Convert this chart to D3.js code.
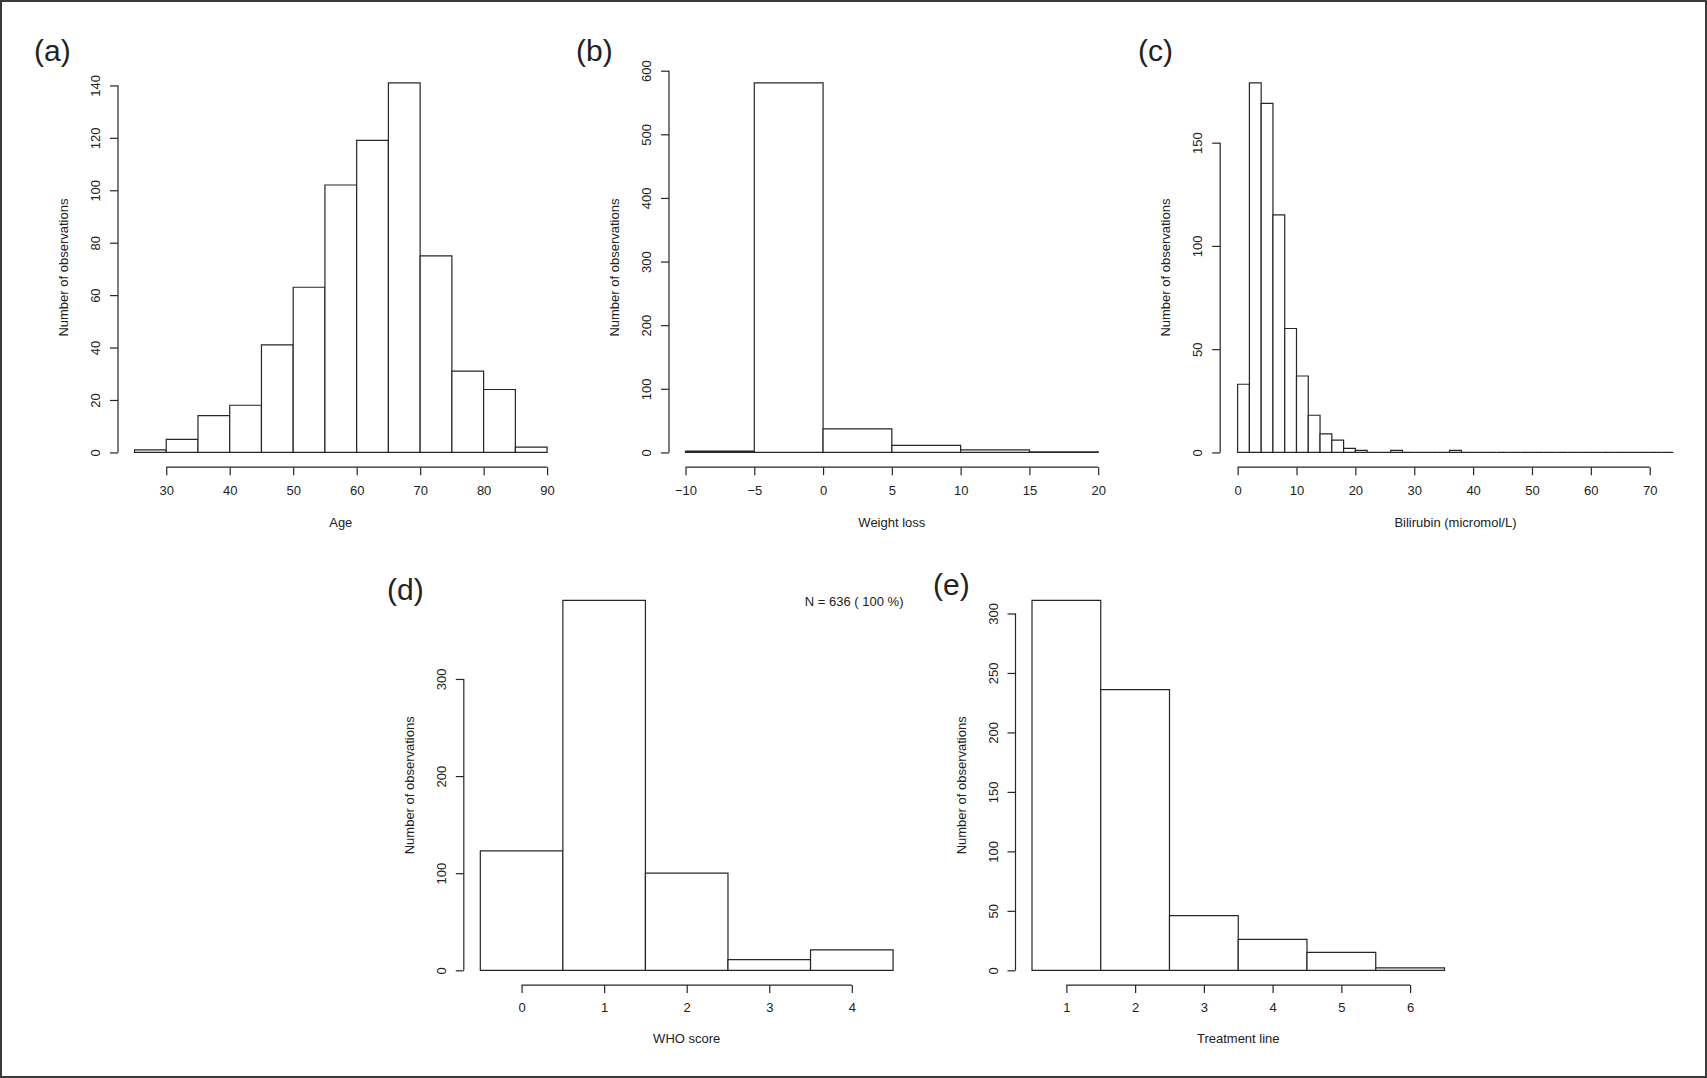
<!DOCTYPE html>
<html>
<head>
<meta charset="utf-8">
<script src="https://cdn.jsdelivr.net/npm/d3@7"></script>
<style>
  html, body { margin: 0; padding: 0; background: #fff; }
  svg { display: block; }
  text { font-family: "Liberation Sans", Arial, Helvetica, sans-serif; fill: #222; }
</style>
</head>
<body>
<svg id="chart" width="1707" height="1078"></svg>
<script>
// ---------------- DATA ----------------
// (a) Age histogram (bin starts, width 5)
const ageBinStarts = [25, 30, 35, 40, 45, 50, 55, 60, 65, 70, 75, 80, 85];
const ageCounts    = [1, 5, 14, 18, 41, 63, 102, 119, 141, 75, 31, 24, 2];
const ageTicksX = [30, 40, 50, 60, 70, 80, 90];
const ageTicksY = [0, 20, 40, 60, 80, 100, 120, 140];

// (b) Weight loss histogram (bin starts, width 5)
const weightBinStarts = [-10, -5, 0, 5, 10, 15];
const weightCounts    = [2, 581, 37, 11, 4, 1];
const weightTicksX = [-10, -5, 0, 5, 10, 15, 20];
const weightTicksY = [0, 100, 200, 300, 400, 500, 600];

// (c) Bilirubin histogram (bin starts, width 2)
const biliBinStarts = [0, 2, 4, 6, 8, 10, 12, 14, 16, 18, 20, 22, 24, 26, 28, 30, 32, 34, 36,
                       38, 40, 42, 44, 46, 48, 50, 52, 54, 56, 58, 60, 62, 64, 66, 68, 70, 72];
const biliCounts    = [33, 179, 169, 115, 60, 37, 18, 9, 6, 2, 1, 0, 0, 1, 0, 0, 0, 0, 1,
                       0, 0, 0, 0, 0, 0, 0, 0, 0, 0, 0, 0, 0, 0, 0, 0, 0, 0];
const biliTicksX = [0, 10, 20, 30, 40, 50, 60, 70];
const biliTicksY = [0, 50, 100, 150];

// (d) WHO score (centered bars, width 1)
const whoScores = [0, 1, 2, 3, 4];
const whoCounts = [123, 381, 100, 11, 21];
const whoTicksX = [0, 1, 2, 3, 4];
const whoTicksY = [0, 100, 200, 300];

// (e) Treatment line (centered bars, width 1)
const treatmentLines  = [1, 2, 3, 4, 5, 6];
const treatmentCounts = [311, 236, 46, 26, 15, 2];
const treatmentTicksX = [1, 2, 3, 4, 5, 6];
const treatmentTicksY = [0, 50, 100, 150, 200, 250, 300];

const yTitle = "Number of observations";
const noteText = "N = 636 ( 100 %)";

// ---------------- PANELS (layout) ----------------
const panels = [
  { letter: "(a)", starts: ageBinStarts, counts: ageCounts, width: 5, offset: 0,
    ticksX: ageTicksX, ticksY: ageTicksY, xTitle: "Age",
    box: { l: 118.0, r: 563.6, t: 68.0, b: 467.2 }, lab: { x: 34, y: 60.5 }, tl: 28, tt: 59.3 },
  { letter: "(b)", starts: weightBinStarts, counts: weightCounts, width: 5, offset: 0,
    ticksX: weightTicksX, ticksY: weightTicksY, xTitle: "Weight loss",
    box: { l: 669.0, r: 1114.7, t: 68.0, b: 467.2 }, lab: { x: 576, y: 60.5 }, tl: 28, tt: 59.3 },
  { letter: "(c)", starts: biliBinStarts, counts: biliCounts, width: 2, offset: 0,
    ticksX: biliTicksX, ticksY: biliTicksY, xTitle: "Bilirubin (micromol/L)",
    box: { l: 1220.2, r: 1690.7, t: 68.0, b: 467.2 }, lab: { x: 1138, y: 60.5 }, tl: 28, tt: 59.3 },
  { letter: "(d)", starts: whoScores, counts: whoCounts, width: 1, offset: -0.5,
    ticksX: whoTicksX, ticksY: whoTicksY, xTitle: "WHO score", note: noteText,
    box: { l: 463.8, r: 909.6, t: 585.5, b: 985.1 }, lab: { x: 387, y: 600 }, tl: 27, tt: 58 },
  { letter: "(e)", starts: treatmentLines, counts: treatmentCounts, width: 1, offset: -0.5,
    ticksX: treatmentTicksX, ticksY: treatmentTicksY, xTitle: "Treatment line",
    box: { l: 1015.5, r: 1461.0, t: 585.6, b: 985.1 }, lab: { x: 933, y: 595 }, tl: 27, tt: 58 }
];

const svg = d3.select("#chart");
const ink = "#262626";
const FS = 13;

// outer frame
svg.append("rect").attr("x", 1).attr("y", 1).attr("width", 1705).attr("height", 1076)
  .attr("fill", "none").attr("stroke", "#3a3a3a").attr("stroke-width", 2);

panels.forEach(p => {
  const bins = p.starts.map((s, i) => ({ x0: s + p.offset, x1: s + p.offset + p.width, n: p.counts[i] }));
  const xmin = d3.min(bins, d => d.x0), xmax = d3.max(bins, d => d.x1);
  const ymax = d3.max(bins, d => d.n);
  const xpad = 0.04 * (xmax - xmin), ypad = 0.04 * ymax;
  const x = d3.scaleLinear().domain([xmin - xpad, xmax + xpad]).range([p.box.l, p.box.r]);
  const y = d3.scaleLinear().domain([-ypad, ymax + ypad]).range([p.box.b, p.box.t]);
  const g = svg.append("g");

  // bars (paths so zero-height bins still draw a line)
  g.selectAll("path.bar").data(bins).enter().append("path")
    .attr("class", "bar")
    .attr("d", d => `M${x(d.x0)},${y(0)}V${y(d.n)}H${x(d.x1)}V${y(0)}Z`)
    .attr("fill", "#fff").attr("stroke", ink).attr("stroke-width", 1.2);

  // x axis at bottom of plot region, line spans first to last tick
  const xAxis = d3.axisBottom(x).tickValues(p.ticksX).tickSize(8).tickPadding(0)
    .tickFormat(d => d < 0 ? "\u2212" + Math.abs(d) : String(d));
  const gx = g.append("g").attr("transform", `translate(0,${p.box.b})`).call(xAxis);
  gx.select(".domain").remove();
  gx.append("line").attr("x1", x(p.ticksX[0])).attr("x2", x(p.ticksX[p.ticksX.length - 1]))
    .attr("y1", 0).attr("y2", 0).attr("stroke", ink).attr("stroke-width", 1.2);
  gx.selectAll(".tick line").attr("stroke", ink).attr("stroke-width", 1.2);
  gx.selectAll(".tick text").attr("font-size", FS).attr("fill", "#222")
    .attr("font-family", "Liberation Sans, Arial, sans-serif")
    .attr("y", p.tl).attr("dy", null);

  // y axis at left of plot region
  const yAxis = d3.axisLeft(y).tickValues(p.ticksY).tickSize(8).tickFormat(d3.format("d"));
  const gy = g.append("g").attr("transform", `translate(${p.box.l},0)`).call(yAxis);
  gy.select(".domain").remove();
  gy.append("line").attr("y1", y(p.ticksY[0])).attr("y2", y(p.ticksY[p.ticksY.length - 1]))
    .attr("x1", 0).attr("x2", 0).attr("stroke", ink).attr("stroke-width", 1.2);
  gy.selectAll(".tick line").attr("stroke", ink).attr("stroke-width", 1.2);
  gy.selectAll(".tick text")
    .attr("font-size", FS).attr("fill", "#222")
    .attr("font-family", "Liberation Sans, Arial, sans-serif")
    .attr("x", null).attr("dy", null)
    .attr("text-anchor", "middle")
    .attr("transform", "translate(-17.9,0) rotate(-90)");

  // axis titles
  g.append("text").attr("x", (p.box.l + p.box.r) / 2).attr("y", p.box.b + p.tt)
    .attr("text-anchor", "middle").attr("font-size", FS).text(p.xTitle);
  g.append("text")
    .attr("transform", `translate(${p.box.l - 49.8},${(p.box.t + p.box.b) / 2}) rotate(-90)`)
    .attr("text-anchor", "middle").attr("font-size", FS).text(yTitle);

  // panel letter
  g.append("text").attr("x", p.lab.x).attr("y", p.lab.y).attr("font-size", 30).text(p.letter);

  if (p.note) {
    g.append("text").attr("x", 903.5).attr("y", 606).attr("text-anchor", "end")
      .attr("font-size", FS).text(p.note);
  }
});
</script>
</body>
</html>
